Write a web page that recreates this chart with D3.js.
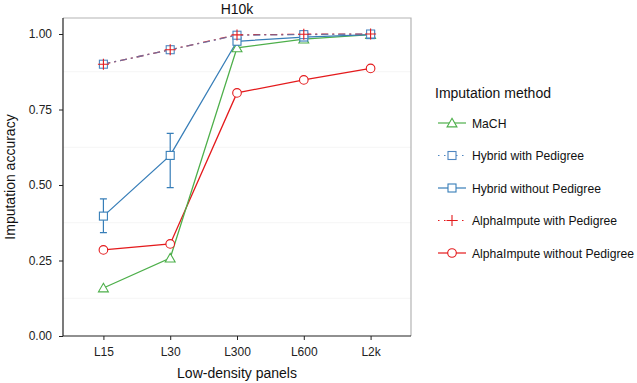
<!DOCTYPE html>
<html><head><meta charset="utf-8">
<script src="https://cdn.jsdelivr.net/npm/d3@7"></script>
<style>body{margin:0;background:#fff}svg{display:block;font-family:"Liberation Sans",Arial,sans-serif}</style>
</head><body><svg id="c" width="637" height="383"></svg>
<script>
const categories = ["L15","L30","L300","L600","L2k"];
const yTicks = [0, 0.25, 0.5, 0.75, 1.0];
const yMinor = [0.125, 0.375, 0.625, 0.875];
const seriesNames = ["MaCH","Hybrid with Pedigree","Hybrid without Pedigree","AlphaImpute with Pedigree","AlphaImpute without Pedigree"];
const mach = [0.159, 0.258, 0.954, 0.983, 0.998];
const hybridPed = [0.900, 0.948, 0.996, 0.998, 1.000];
const hybridNoPed = [0.397, 0.598, 0.976, 0.990, 0.998];
const hybridNoPedLo = [0.342, 0.491, null, null, null];
const hybridNoPedHi = [0.454, 0.671, null, null, null];
const alphaPed = [0.900, 0.948, 0.997, 0.999, 1.000];
const alphaNoPed = [0.285, 0.305, 0.805, 0.848, 0.886];

const green="#4daf4a", blue="#377eb8", red="#e41a1c";
const styles = [
  {vals:mach, color:green, dash:null, shape:"tri"},
  {vals:hybridPed, color:"#4f86c0", dash:"7,4,2,4", shape:"sq", op:0.75},
  {vals:hybridNoPed, color:blue, dash:null, shape:"sq"},
  {vals:alphaPed, color:red, dash:"7,4,2,4", shape:"cross"},
  {vals:alphaNoPed, color:red, dash:null, shape:"circ"}
];

const svg = d3.select("#c");
const L=63, R=411, T=18, B=336;
const x = d3.scalePoint().domain(categories).range([L,R]).padding(0.605);
const y = d3.scaleLinear().domain([0,1.053]).range([B,T]);

// minor grid
svg.append("g").selectAll("line").data(yMinor).join("line")
  .attr("x1",L).attr("x2",R).attr("y1",d=>y(d)).attr("y2",d=>y(d))
  .attr("stroke","#f3f3f3").attr("stroke-width",0.8);

// panel border top/right
svg.append("path").attr("d",`M${L},${T}H${R}V${B}`).attr("fill","none").attr("stroke","#b4b4b4").attr("stroke-width",1.2);

// axes
const xa = svg.append("g").attr("transform",`translate(0,${B})`)
  .call(d3.axisBottom(x).tickSize(4).tickSizeOuter(0).tickPadding(7));
const ya = svg.append("g").attr("transform",`translate(${L},0)`)
  .call(d3.axisLeft(y).tickValues(yTicks).tickFormat(d3.format(".2f")).tickSize(4).tickSizeOuter(0).tickPadding(7));
[xa,ya].forEach(a=>{
  a.select(".domain").attr("stroke","#222").attr("stroke-width",1.2);
  a.selectAll(".tick line").attr("stroke","#222").attr("stroke-width",1);
  a.selectAll("text").attr("fill","#222").attr("font-size",12).attr("font-family","Liberation Sans, Arial, sans-serif");
});
xa.select(".domain").attr("d",`M${L},0H${R}`);
ya.select(".domain").attr("d",`M0,${T}V${B}`);

// titles
svg.append("text").attr("x",(L+R)/2).attr("y",14).attr("text-anchor","middle").attr("font-size",14).attr("fill","#111").text("H10k");
svg.append("text").attr("x",(L+R)/2).attr("y",378).attr("text-anchor","middle").attr("font-size",14).attr("fill","#111").text("Low-density panels");
svg.append("text").attr("transform",`translate(15,${(T+B)/2}) rotate(-90)`).attr("text-anchor","middle").attr("font-size",14).attr("fill","#111").text("Imputation accuracy");

function marker(g, shape, color, cx, cy){
  if(shape==="tri"){
    g.append("path").attr("d",d3.symbol(d3.symbolTriangle2,70)()).attr("transform",`translate(${cx},${cy+1})`)
      .attr("fill","#fff").attr("stroke",color).attr("stroke-width",1.1);
  } else if(shape==="sq"){
    g.append("rect").attr("x",cx-4).attr("y",cy-4).attr("width",8).attr("height",8)
      .attr("fill","#fff").attr("stroke",color).attr("stroke-width",1.1);
  } else if(shape==="circ"){
    g.append("circle").attr("cx",cx).attr("cy",cy).attr("r",4.3)
      .attr("fill","#fff").attr("stroke",color).attr("stroke-width",1.1);
  } else if(shape==="cross"){
    g.append("path").attr("d",`M${cx-5.5},${cy}H${cx+5.5}M${cx},${cy-5.5}V${cy+5.5}`)
      .attr("stroke",color).attr("stroke-width",1.1).attr("fill","none");
  }
}

const line = d3.line().x((d,i)=>x(categories[i])).y(d=>y(d));
const order=[4,0,2,3,1];
order.forEach(k=>{
  const s=styles[k];
  svg.append("path").datum(s.vals).attr("d",line).attr("fill","none")
    .attr("stroke",s.color).attr("stroke-width",1.3).attr("stroke-dasharray",s.dash)
    .attr("stroke-opacity",s.op||1);
});
// error bars
categories.forEach((c,i)=>{
  if(hybridNoPedLo[i]==null) return;
  const cx=x(c);
  svg.append("path").attr("d",`M${cx},${y(hybridNoPedLo[i])}V${y(hybridNoPedHi[i])}M${cx-3.5},${y(hybridNoPedLo[i])}H${cx+3.5}M${cx-3.5},${y(hybridNoPedHi[i])}H${cx+3.5}`)
    .attr("stroke",blue).attr("stroke-width",1.2).attr("fill","none");
});
[4,0,2,1,3].forEach(k=>{
  const s=styles[k];
  const g=svg.append("g");
  s.vals.forEach((v,i)=>marker(g,s.shape,s.color,x(categories[i]),y(v)));
});

// legend
const lg = svg.append("g");
lg.append("text").attr("x",435).attr("y",98).attr("font-size",14).attr("fill","#111").text("Imputation method");
const legTexts = [];
seriesNames.forEach((n,i)=>{
  const cy=123+i*32.5, s=styles[i];
  lg.append("line").attr("x1",438).attr("x2",466).attr("y1",cy).attr("y2",cy)
    .attr("stroke",s.color).attr("stroke-width",1.2).attr("stroke-dasharray",s.dash? "1.5,4.5":null);
  marker(lg,s.shape,s.color,452,cy);
  legTexts.push(lg.append("text").attr("x",472).attr("y",cy+4.6).attr("font-size",13.2).attr("fill","#111").text(n));
});
// fit longest legend text within the window
let maxW = d3.max(legTexts, t=>t.node().getComputedTextLength());
if(maxW > 162){
  const fs = 13.2*162/maxW;
  legTexts.forEach(t=>t.attr("font-size",fs));
}
</script></body></html>
